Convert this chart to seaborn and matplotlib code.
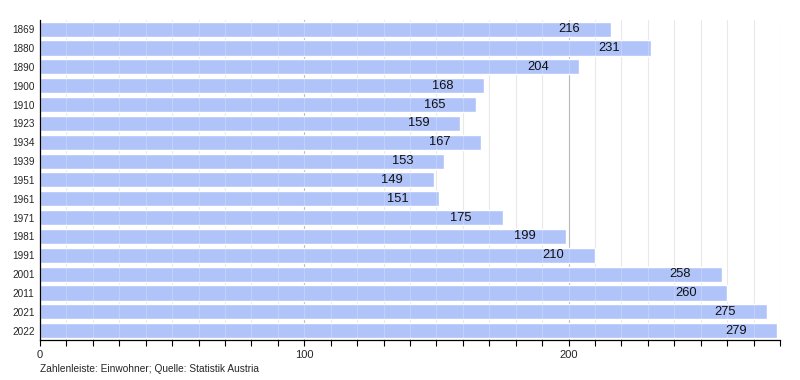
import matplotlib
matplotlib.use("Agg")
import matplotlib.pyplot as plt
import seaborn as sns
import pandas as pd
from matplotlib.ticker import MultipleLocator

# Einwohner pro Jahr
years = ["1869", "1880", "1890", "1900", "1910", "1923", "1934", "1939", "1951",
         "1961", "1971", "1981", "1991", "2001", "2011", "2021", "2022"]
population = [216, 231, 204, 168, 165, 159, 167, 153, 149, 151, 175, 199, 210,
              258, 260, 275, 279]

df = pd.DataFrame({"Jahr": years, "Einwohner": population})

sns.set_style("white")
plt.rcParams["font.family"] = ["Liberation Sans", "DejaVu Sans"]

fig = plt.figure(figsize=(8, 3.8), dpi=100)
ax = fig.add_axes([0.05, 0.105, 0.925, 0.843])

# grid every 10, darker at 100 / 200
for x in range(10, 290, 10):
    c = "#a8a8a8" if x % 100 == 0 else "#e4e4e4"
    ax.axvline(x, color=c, lw=0.8, zorder=0)

sns.barplot(data=df, y="Jahr", x="Einwohner", color="#b0c4fa", saturation=1,
            width=0.8, orient="h", ax=ax, zorder=2)

# faint grid showing through the bars
for x in range(10, 290, 10):
    ax.axvline(x, color="white", lw=0.6, alpha=0.25, zorder=2.5)

for i, v in enumerate(population):
    ax.annotate(str(v), xy=(v, i), xytext=(-22, 0), textcoords="offset points",
                ha="right", va="center", fontsize=9.3, color="#111111", zorder=3)

ax.set_xlim(0, 280)
ax.set_ylim(len(years) - 0.5, -0.5)
ax.xaxis.set_major_locator(MultipleLocator(100))
ax.xaxis.set_minor_locator(MultipleLocator(10))
ax.tick_params(axis="x", which="both", direction="out", length=4, width=0.8,
               color="black", labelsize=8, bottom=True, pad=3)
ax.tick_params(axis="y", length=0, labelsize=7.2, pad=4)
ax.set_xlabel("")
ax.set_ylabel("")

for s in ["top", "right"]:
    ax.spines[s].set_visible(False)
for s in ["left", "bottom"]:
    ax.spines[s].set_color("black")
    ax.spines[s].set_linewidth(0.9)

fig.text(0.05, 0.028, "Zahlenleiste: Einwohner; Quelle: Statistik Austria",
         fontsize=7.3, ha="left", va="center")

fig.savefig("out.png", dpi=100)
